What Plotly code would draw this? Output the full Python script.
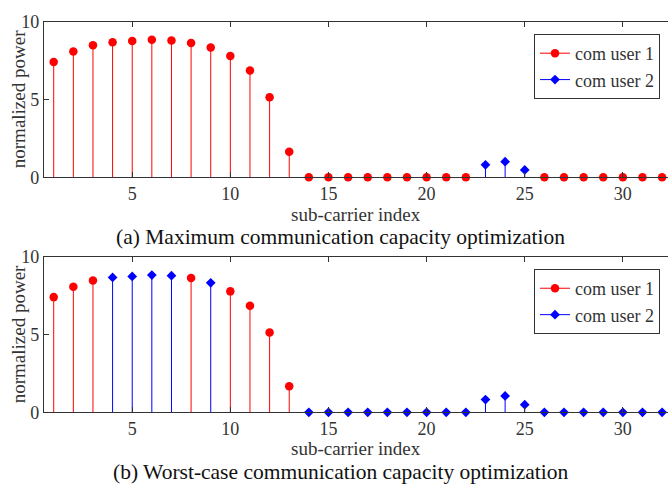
import plotly.graph_objects as go

# ---------------- data ----------------
subcarriers = list(range(1, 33))

# (a) Maximum communication capacity optimization
power_a = [7.41, 8.09, 8.49, 8.68, 8.77, 8.85, 8.80, 8.64, 8.35, 7.80, 6.87, 5.14, 1.64,
           0, 0, 0, 0, 0, 0, 0, 0, 0,
           0.80, 1.00, 0.47,
           0, 0, 0, 0, 0, 0, 0]
user_a = [1] * 22 + [2, 2, 2] + [1] * 7

# (b) Worst-case communication capacity optimization
power_b = [7.41, 8.07, 8.48, 8.68, 8.74, 8.83, 8.79, 8.64, 8.33, 7.78, 6.85, 5.14, 1.67,
           0, 0, 0, 0, 0, 0, 0, 0, 0,
           0.82, 1.05, 0.49,
           0, 0, 0, 0, 0, 0, 0]
user_b = [1, 1, 1, 2, 2, 2, 2, 1, 2, 1, 1, 1, 1] + [2] * 19

series_names = {1: "com user 1", 2: "com user 2"}
x_ticks = [5, 10, 15, 20, 25, 30]
y_ticks = [0, 5, 10]

x_label = "sub-carrier index"
y_label = "normalized power"
caption_a = "(a) Maximum communication capacity optimization"
caption_b = "(b) Worst-case communication capacity optimization"

# ---------------- style ----------------
W, H = 668, 493
FONT = "Liberation Serif, Times New Roman, serif"
AX = "#333333"
colors = {1: "#ff0000", 2: "#0000ff"}
symbols = {1: "circle", 2: "diamond"}
msizes = {1: 8.5, 2: 7.5}

fig = go.Figure()


def add_panel(power, user, xa, ya, legend):
    for u in (1, 2):
        xs = [x for x, uu in zip(subcarriers, user) if uu == u]
        ys = [p for p, uu in zip(power, user) if uu == u]
        sx, sy = [], []
        for x, y in zip(xs, ys):
            sx += [x, x, None]
            sy += [0, y, None]
        fig.add_trace(go.Scatter(x=sx, y=sy, mode="lines", xaxis=xa, yaxis=ya,
                                 line=dict(color=colors[u], width=1),
                                 showlegend=False, hoverinfo="skip"))
        fig.add_trace(go.Scatter(x=xs, y=ys, mode="markers", xaxis=xa, yaxis=ya,
                                 marker=dict(color=colors[u], symbol=symbols[u], size=msizes[u],
                                             line=dict(width=0)),
                                 cliponaxis=False, showlegend=False))
        fig.add_trace(go.Scatter(x=[None], y=[None], mode="lines+markers", xaxis=xa, yaxis=ya,
                                 name=series_names[u], legend=legend,
                                 line=dict(color=colors[u], width=1),
                                 marker=dict(color=colors[u], symbol=symbols[u], size=msizes[u])))


add_panel(power_a, user_a, "x", "y", "legend")
add_panel(power_b, user_b, "x2", "y2", "legend2")

x0 = 43.9 / W
xdom = [x0, 1.0]
ydom_a = [1 - 174.3 / H, 1 - 12.3 / H]
ydom_b = [1 - 419.3 / H, 1 - 257.3 / H]

xaxis_common = dict(range=[0.5, 32.3], tickvals=x_ticks, ticks="inside", ticklen=5,
                    tickcolor=AX, showline=True, linecolor=AX, linewidth=1, mirror="ticks",
                    showgrid=False, zeroline=False,
                    tickfont=dict(family=FONT, size=18, color=AX), domain=xdom)
yaxis_common = dict(range=[0, 10], tickvals=y_ticks, ticks="inside", ticklen=5,
                    tickcolor=AX, showline=True, linecolor=AX, linewidth=1,
                    showgrid=False, zeroline=False,
                    tickfont=dict(family=FONT, size=18, color=AX))

fig.update_layout(
    width=W, height=H,
    margin=dict(l=0, r=0, t=0, b=0),
    paper_bgcolor="white", plot_bgcolor="white",
    font=dict(family=FONT, size=17, color=AX),
    xaxis=dict(**xaxis_common, anchor="y"),
    yaxis=dict(**yaxis_common, domain=ydom_a, anchor="x"),
    xaxis2=dict(**xaxis_common, anchor="y2"),
    yaxis2=dict(**yaxis_common, domain=ydom_b, anchor="x2"),
    legend=dict(x=660 / W, y=1 - 25 / H, xanchor="right", yanchor="top",
                bgcolor="white", bordercolor=AX, borderwidth=1,
                font=dict(family=FONT, size=18, color=AX), tracegroupgap=0),
    legend2=dict(x=660 / W, y=1 - 270 / H, xanchor="right", yanchor="top",
                 bgcolor="white", bordercolor=AX, borderwidth=1,
                 font=dict(family=FONT, size=18, color=AX), tracegroupgap=0),
    showlegend=True,
)

xc = (43.9 + 668) / 2 / W
ann = []
for ytitle, ymid in ((213, 93), (457, 338)):
    ann.append(dict(text=x_label, x=xc, y=1 - ytitle / H, xref="paper", yref="paper",
                    showarrow=False, font=dict(family=FONT, size=19, color=AX),
                    xanchor="center", yanchor="middle"))
    ann.append(dict(text=y_label, x=18 / W, y=1 - ymid / H, xref="paper", yref="paper",
                    showarrow=False, textangle=-90, font=dict(family=FONT, size=19, color=AX),
                    xanchor="center", yanchor="middle"))
ann.append(dict(text=caption_a, x=340 / W, y=1 - 237 / H, xref="paper", yref="paper",
                showarrow=False, font=dict(family=FONT, size=21.5, color="#111111"),
                xanchor="center", yanchor="middle"))
ann.append(dict(text=caption_b, x=340 / W, y=1 - 482 / H, xref="paper", yref="paper",
                showarrow=False, font=dict(family=FONT, size=21.5, color="#111111"),
                xanchor="center", yanchor="middle"))
fig.update_layout(annotations=ann)

fig.write_html("out.html", config={"displayModeBar": False},
               post_script="document.body.style.margin='0';document.body.style.overflow='hidden';")
